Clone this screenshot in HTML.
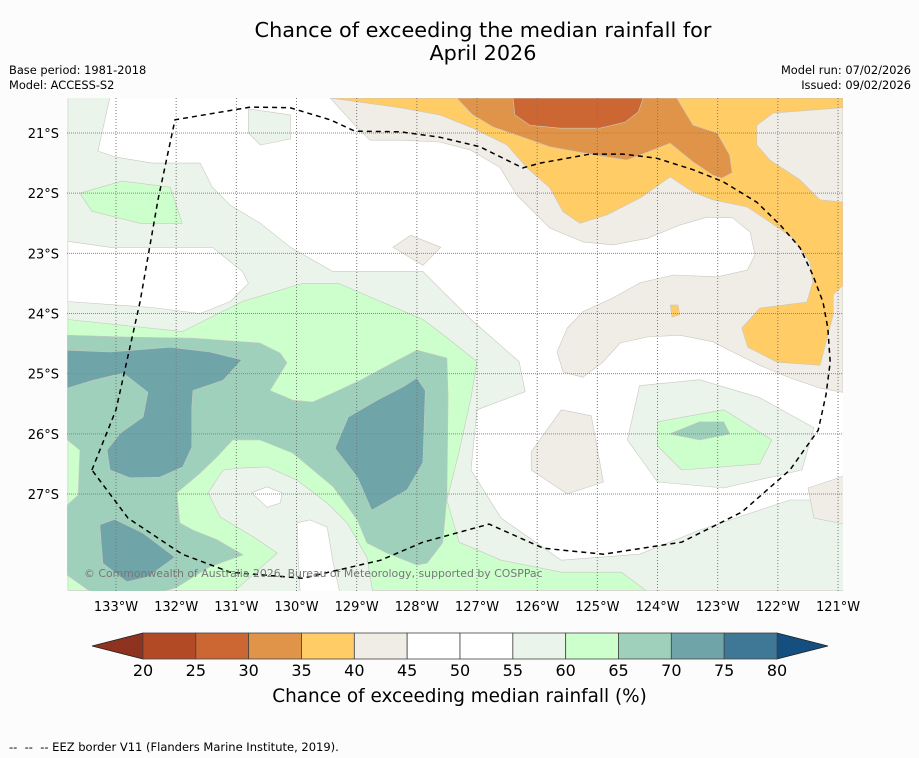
<!DOCTYPE html>
<html><head><meta charset="utf-8"><style>
body{margin:0;background:#fcfcfc;font-family:"DejaVu Sans","Liberation Sans",sans-serif;}
#wrap{position:relative;width:919px;height:758px;overflow:hidden;background:#fcfcfc}
.t{position:absolute;white-space:nowrap;color:#000}
</style></head><body>
<div id="wrap">
<div class="t" style="left:0;width:966px;text-align:center;top:19px;font-size:20.8px;line-height:23px">Chance of exceeding the median rainfall for<br>April 2026</div>
<div class="t" style="left:9px;top:63px;font-size:11.4px">Base period: 1981-2018</div>
<div class="t" style="left:9px;top:78px;font-size:11.4px">Model: ACCESS-S2</div>
<div class="t" style="right:8px;top:63px;font-size:11.4px;text-align:right">Model run: 07/02/2026</div>
<div class="t" style="right:8px;top:78px;font-size:11.4px;text-align:right">Issued: 09/02/2026</div>
<svg id="svg" width="919" height="758" style="position:absolute;left:0;top:0"></svg>
<div class="t" style="left:0;width:919px;text-align:center;top:686px;font-size:18.4px">Chance of exceeding median rainfall (%)</div>
<div class="t" style="left:9px;top:740px;font-size:11.5px">-- &nbsp;-- &nbsp;-- EEZ border V11 (Flanders Marine Institute, 2019).</div>
</div>
<script>
const lonTicks=[133,132,131,130,129,128,127,126,125,124,123,122,121];
const latTicks=[21,22,23,24,25,26,27];
const cbLevels=[20,25,30,35,40,45,50,55,60,65,70,75,80];
const cbColors=['#b24a26','#cc6633','#e0944a','#ffcc66','#f0ece6','#ffffff','#ffffff','#eaf4ea','#ccffcc','#9ed0bb','#6fa5a9','#3f7896'];
const cbUnder='#8f3320', cbOver='#154f80';
// contour regions: [color, "W S, W S ..."]
const regions=[
['#eaf4ea','133.8 20.4,133.1 20.4,133.3 21.3,133.0 21.4,132.4 21.5,131.6 21.5,131.4 21.9,131.1 22.2,130.6 22.5,130.1 22.9,129.4 23.3,127.9 23.3,127.1 24.1,126.3 24.8,126.2 25.3,127.0 25.6,127.1 26.6,126.6 27.4,125.6 28.1,124.3 28.0,123.3 27.6,121.8 27.1,120.9 27.1,120.9 28.6,133.8 28.6'],
['#ffffff','133.8 22.8,133.1 22.9,132.3 22.9,131.4 22.9,130.9 23.3,130.8 23.5,131.1 23.8,131.6 24.0,132.4 23.9,133.8 23.8'],
['#eaf4ea','130.8 20.6,130.1 20.7,130.1 21.1,130.6 21.2,130.8 21.0'],
['#ccffcc','133.6 22.0,132.9 21.8,132.1 21.9,131.9 22.5,132.6 22.5,133.4 22.3'],
['#eaf4ea','124.3 25.2,123.3 25.1,122.3 25.4,121.4 25.9,121.6 26.6,122.9 26.9,124.0 26.8,124.5 26.1'],
['#ccffcc','124.0 25.8,122.9 25.6,122.1 26.1,122.3 26.5,123.6 26.6,124.0 26.2'],
['#9ed0bb','123.8 26.0,123.3 25.8,122.9 25.8,122.8 26.0,123.3 26.1'],
['#ccffcc','133.8 24.1,131.9 24.3,130.9 23.8,129.9 23.5,129.3 23.5,128.6 23.8,127.9 24.1,127.5 24.4,127.0 24.8,127.1 25.4,127.3 26.3,127.5 27.1,127.3 27.8,126.6 28.1,125.6 28.3,124.6 28.3,124.2 28.6,133.8 28.6'],
['#9ed0bb','133.81 24.36,132.82 24.39,131.72 24.41,130.61 24.49,130.27 24.66,130.16 24.82,130.44 25.28,130.06 25.44,129.73 25.47,129.39 25.32,128.94 25.11,128.40 24.82,128.00 24.61,127.50 24.74,127.48 25.39,127.50 27.05,127.57 27.81,127.83 28.15,128.00 28.18,128.50 27.98,128.83 27.81,128.99 27.43,129.39 26.88,130.06 26.32,130.61 26.10,131.06 26.10,131.32 26.38,131.60 26.65,131.99 26.98,131.94 27.48,131.72 27.60,131.32 27.76,130.89 28.01,131.44 28.21,131.99 28.55,132.27 28.64,133.40 28.64,133.81 28.35,133.81 27.18,133.63 27.02,133.60 26.27,133.81 26.10'],
['#6fa5a9','133.81 24.61,133.10 24.64,132.10 24.56,131.44 24.64,130.91 24.77,131.22 25.11,131.72 25.28,131.74 25.55,131.74 26.22,131.89 26.55,132.27 26.72,132.77 26.73,133.10 26.60,133.15 26.27,132.93 25.99,132.55 25.72,132.47 25.31,132.88 24.99,133.38 25.11,133.81 25.24'],
['#6fa5a9','128.00 25.07,127.86 25.28,127.90 26.48,128.16 26.93,128.75 27.27,128.99 26.72,129.36 26.24,129.14 25.72,128.66 25.44,128.23 25.22'],
['#6fa5a9','133.27 27.51,133.02 27.42,132.55 27.65,132.02 28.05,132.48 28.38,132.82 28.46,133.22 28.15'],
['#eaf4ea','131.47 26.98,131.22 26.60,130.94 26.57,130.49 26.55,129.99 26.77,129.49 27.15,129.16 27.48,128.83 28.05,128.73 28.64,131.06 28.64,130.32 27.98,130.72 27.71,131.27 27.38'],
['#ffffff','130.74 26.98,130.49 26.88,130.24 26.98,130.27 27.15,130.49 27.22'],
['#ffffff','129.99 27.48,129.78 27.43,129.49 27.55,129.39 28.15,129.28 28.64,129.94 28.64,129.98 27.88'],
['#f0ece6','129.44 20.42,120.92 20.42,120.92 25.31,121.30 25.24,121.80 25.07,122.30 24.86,122.75 24.64,123.08 24.47,123.63 24.36,124.17 24.39,124.62 24.49,124.91 24.81,125.24 25.06,125.57 24.97,125.67 24.64,125.50 24.24,125.24 23.97,124.74 23.74,124.29 23.49,123.74 23.36,123.01 23.39,122.51 23.28,122.38 23.03,122.46 22.65,122.75 22.41,123.18 22.40,123.63 22.53,124.17 22.75,124.74 22.86,125.24 22.81,125.79 22.58,126.34 22.03,126.62 21.57,127.12 21.28,127.62 21.15,128.28 21.12,128.78 21.12,129.03 20.87'],
['#ffcc66','129.44 20.42,128.28 20.58,127.62 20.70,127.07 20.92,126.50 21.20,126.17 21.58,125.79 21.91,125.57 22.31,125.29 22.50,124.84 22.36,124.29 22.08,123.79 21.73,123.41 21.98,123.08 22.11,122.51 22.23,122.13 22.48,121.75 22.75,121.47 23.14,121.42 23.48,121.52 23.81,122.30 23.91,122.60 24.24,122.50 24.56,122.01 24.81,121.30 24.86,121.08 24.02,121.08 23.69,120.92 23.53,120.92 20.42'],
['#f0ece6','122.35 20.87,122.08 20.67,120.92 20.58,120.92 22.15,121.30 22.11,121.63 21.78,122.13 21.45,122.35 21.20'],
['#e0944a','127.33 20.42,123.68 20.42,123.41 20.87,123.01 21.00,122.80 21.37,122.76 21.66,122.93 21.75,123.08 21.70,123.41 21.48,123.79 21.17,124.51 21.45,125.01 21.37,125.79 21.23,126.24 21.07,126.73 20.90,127.07 20.70,127.28 20.48'],
['#cc6633','126.40 20.42,124.24 20.42,124.32 20.65,124.54 20.82,124.96 20.92,125.62 20.92,126.12 20.87,126.37 20.70'],
['#ffcc66','123.79 23.86,123.66 23.86,123.63 24.02,123.76 24.06'],
['#f0ece6','128.4 22.9,128.1 22.7,127.6 22.9,127.9 23.2'],
['#f0ece6','126.1 26.3,125.6 25.6,125.1 25.7,124.9 26.8,125.5 27.0,126.1 26.6'],
['#f0ece6','121.5 26.9,120.9 26.7,120.9 27.5,121.4 27.4']
];
const eez='133.4 26.6,133.0 25.6,132.6 23.8,132.3 22.1,132.02 20.78,130.77 20.57,130.11 20.58,129.44 20.78,129.03 20.97,128.28 20.98,127.62 21.07,126.95 21.23,126.24 21.58,125.95 21.50,125.12 21.35,124.57 21.35,124.01 21.42,123.41 21.61,122.91 21.81,122.35 22.15,121.96 22.53,121.63 22.91,121.42 23.36,121.25 23.81,121.17 24.24,121.13 24.81,121.20 25.35,121.33 25.94,121.8 26.6,122.6 27.3,123.6 27.8,124.9 28.0,125.9 27.9,126.8 27.5,127.9 27.8,128.6 28.1,129.9 28.4,131.1 28.3,131.9 28.0,132.8 27.4,133.4 26.6';
const MX0=67,MX1=843,MY0=98,MY1=591,DEG=60.17;
const xs=w=>116+(133-w)*DEG;
const ys=s=>133+(s-21)*DEG;
const NS='http://www.w3.org/2000/svg';
const svg=document.getElementById('svg');
function mk(t,a,p){const e=document.createElementNS(NS,t);for(const k in a)e.setAttribute(k,a[k]);(p||svg).appendChild(e);return e;}
function pts(str){return str.split(',').map(p=>{const [w,s]=p.trim().split(/\s+/).map(Number);return xs(w).toFixed(1)+','+ys(s).toFixed(1);}).join(' ');}
const defs=mk('defs',{});
const cp=mk('clipPath',{id:'mc'},defs);mk('rect',{x:MX0,y:MY0,width:MX1-MX0,height:MY1-MY0},cp);
const g=mk('g',{'clip-path':'url(#mc)'});


const bg=mk('rect',{x:MX0,y:MY0,width:MX1-MX0,height:MY1-MY0,fill:'#ffffff'},g);


regions.forEach((r,i)=>{
 const p=mk('polygon',{points:pts(r[1]),fill:r[0],stroke:'#c8c8c0','stroke-width':0.6,'stroke-linejoin':'round'},g);
 
 
});
lonTicks.forEach(w=>{
 const l=mk('line',{x1:xs(w),x2:xs(w),y1:MY0,y2:MY1,stroke:'#777','stroke-width':1,'stroke-dasharray':'1,2'},g);
 
 
 const t=mk('text',{x:xs(w),y:611,'font-size':13,'text-anchor':'middle','font-family':'DejaVu Sans, Liberation Sans, sans-serif'});
 t.textContent=w+'°W';
 
 
});
latTicks.forEach(s=>{
 const l=mk('line',{x1:MX0,x2:MX1,y1:ys(s),y2:ys(s),stroke:'#888','stroke-width':1,'stroke-dasharray':'1,1'},g);
 
 
 const t=mk('text',{x:59,y:ys(s)+5,'font-size':13,'text-anchor':'end','font-family':'DejaVu Sans, Liberation Sans, sans-serif'});
 t.textContent=s+'°S';
 
 
});
const ez=mk('polyline',{points:pts(eez),fill:'none',stroke:'#000','stroke-width':1.5,'stroke-dasharray':'5,4'},g);


const cr=mk('text',{x:84,y:577,'font-size':10.9,fill:'#777','font-family':'DejaVu Sans, Liberation Sans, sans-serif'},g);
cr.textContent='© Commonwealth of Australia 2026, Bureau of Meteorology, supported by COSPPac';


// colorbar
const CB0=143,CB1=777,CBY=633,CBH=26;
const cx=v=>CB0+(v-20)/60*(CB1-CB0);
const under=mk('polygon',{points:`${cx(20)},${CBY} ${cx(20)},${CBY+CBH} 92,${CBY+CBH/2}`,fill:cbUnder,stroke:'#222','stroke-width':0.8});


const over=mk('polygon',{points:`${cx(80)},${CBY} ${cx(80)},${CBY+CBH} 828,${CBY+CBH/2}`,fill:cbOver,stroke:'#222','stroke-width':0.8});


cbColors.forEach((c,i)=>{
 const r=mk('rect',{x:cx(cbLevels[i]),y:CBY,width:cx(cbLevels[i+1])-cx(cbLevels[i]),height:CBH,fill:c,stroke:'#444','stroke-width':0.8});
 
 
});
cbLevels.forEach(v=>{
 const t=mk('text',{x:cx(v),y:676,'font-size':16,'text-anchor':'middle','font-family':'DejaVu Sans, Liberation Sans, sans-serif'});
 t.textContent=v;
 
 
});
</script>
</body></html>
